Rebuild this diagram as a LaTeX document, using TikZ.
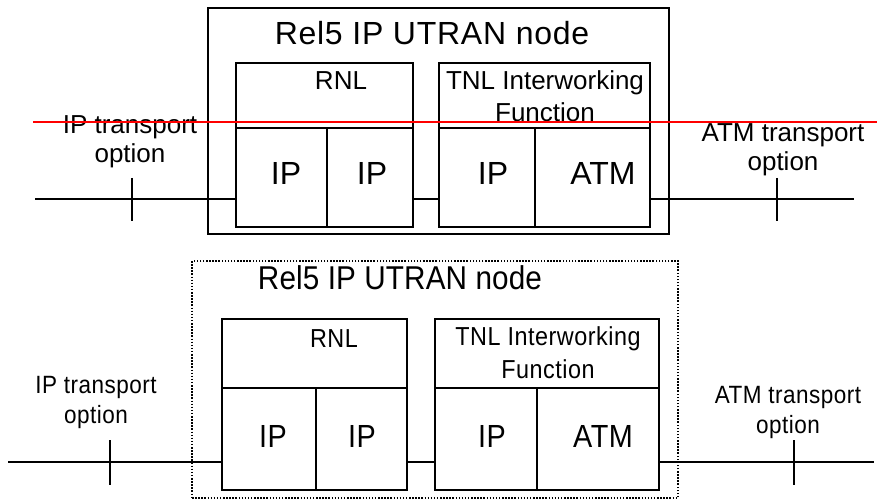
\documentclass[tikz,border=0pt]{standalone}
\usepackage{fontspec}
\setmainfont{Liberation Sans}
\newfontfamily\toptitlefont[LetterSpace=2.3]{Liberation Sans}
\newfontfamily\bottitlefont[FakeStretch=0.9,LetterSpace=0.4]{Liberation Sans}
\newfontfamily\narrowfont[FakeStretch=0.9,LetterSpace=2]{Liberation Sans}
\begin{document}
\begin{tikzpicture}[x=1pt,y=-1pt,
  cell/.style={draw, line width=2.4pt, inner sep=0pt, outer sep=0pt, anchor=north west},
  frame/.style={draw, line width=1.6pt, inner sep=0pt, outer sep=0pt, anchor=north west},
  dotframe/.style={draw, line width=1.5pt, dash pattern=on 1.5pt off 1.6pt, inner sep=0pt, outer sep=0pt, anchor=north west},
  wire/.style={line width=2pt},
  txt/.style={anchor=base, inner sep=0pt, align=center},
  big/.style={font=\fontsize{32}{36}\selectfont},
  mid/.style={font=\fontsize{26}{32}\selectfont},
  opt/.style={font=\fontsize{26}{29}\selectfont},
  nbig/.style={font=\narrowfont\fontsize{32}{36}\selectfont},
  nmid/.style={font=\narrowfont\fontsize{26}{33}\selectfont},
  nopt/.style={font=\narrowfont\fontsize{25}{30}\selectfont},
  redline/.style={draw=red, line width=1.5pt}
]
\useasboundingbox (0,0) rectangle (877,502);

% ---------------- top diagram ----------------
\node[frame, minimum width=461pt, minimum height=226pt] (topouter) at (208,8) {};
\node[cell, minimum width=177pt, minimum height=65pt] (rnlA) at (236,63) {};
\node[cell, minimum width=91pt, minimum height=99pt] (ipA) at (236,128) {};
\node[cell, minimum width=86pt, minimum height=99pt] (ipB) at (327,128) {};
\node[cell, minimum width=211pt, minimum height=65pt] (tnlA) at (439,63) {};
\node[cell, minimum width=96pt, minimum height=99pt] (ipC) at (439,128) {};
\node[cell, minimum width=115pt, minimum height=99pt] (atmA) at (535,128) {};

\node[txt, font=\toptitlefont\fontsize{32}{36}\selectfont] (titleA) at (432,45) {Rel5 IP UTRAN node};
\node[txt, mid] (rnlAt) at (341,90) {RNL};
\node[txt, mid] (tnlAt) at (545,122) {TNL Interworking\\Function};
\node[txt, big] (ipAt) at (286,185) {IP};
\node[txt, big] (ipBt) at (372,185) {IP};
\node[txt, big] (ipCt) at (493,185) {IP};
\node[txt, big] (atmAt) at (603,185) {ATM};
\node[txt, opt] (ipoptA) at (130,163) {IP transport\\option};
\node[txt, opt] (atmoptA) at (783,171) {ATM transport\\option};

\coordinate (lA) at (35,199);
\coordinate (rA) at (854,199);
\coordinate (tAa) at (132,178);
\coordinate (tAb) at (132,221);
\coordinate (tBa) at (777,178);
\coordinate (tBb) at (777,221);
\draw[wire] (lA) -- (ipA.west |- lA);
\draw[wire] (ipB.east |- lA) -- (ipC.west |- lA);
\draw[wire] (atmA.east |- lA) -- (rA);
\draw[wire] (tAa) -- (tAb);
\draw[wire] (tBa) -- (tBb);

% ---------------- bottom diagram ----------------
\node[dotframe, minimum width=486pt, minimum height=237pt] (botouter) at (192,261) {};
\node[cell, minimum width=185pt, minimum height=69pt] (rnlB) at (222,319) {};
\node[cell, minimum width=94pt, minimum height=102pt] (ipD) at (222,388) {};
\node[cell, minimum width=91pt, minimum height=102pt] (ipE) at (316,388) {};
\node[cell, minimum width=224pt, minimum height=69pt] (tnlB) at (435,319) {};
\node[cell, minimum width=102pt, minimum height=102pt] (ipF) at (435,388) {};
\node[cell, minimum width=122pt, minimum height=102pt] (atmB) at (537,388) {};

\node[txt, font=\bottitlefont\fontsize{33}{36}\selectfont] (titleB) at (400,290) {Rel5 IP UTRAN node};
\node[txt, nmid] (rnlBt) at (334,347) {RNL};
\node[txt, nmid] (tnlBt) at (548,378) {TNL Interworking\\Function};
\node[txt, nbig] (ipDt) at (273,447) {IP};
\node[txt, nbig] (ipEt) at (362,447) {IP};
\node[txt, nbig] (ipFt) at (492,447) {IP};
\node[txt, nbig] (atmBt) at (603,447) {ATM};
\node[txt, nopt] (ipoptB) at (96,423) {IP transport\\option};
\node[txt, nopt] (atmoptB) at (788,433) {ATM transport\\option};

\coordinate (lB) at (8,462);
\coordinate (rB) at (874,462);
\coordinate (tCa) at (110,440);
\coordinate (tCb) at (110,485);
\coordinate (tDa) at (794,440);
\coordinate (tDb) at (794,485);
\draw[wire] (lB) -- (ipD.west |- lB);
\draw[wire] (ipE.east |- lB) -- (ipF.west |- lB);
\draw[wire] (atmB.east |- lB) -- (rB);
\draw[wire] (tCa) -- (tCb);
\draw[wire] (tDa) -- (tDb);

% ---------------- red line ----------------
\coordinate (redL) at (33,122);
\coordinate (redR) at (877,122);
\draw[redline] (redL) -- (redR);
\end{tikzpicture}
\end{document}
